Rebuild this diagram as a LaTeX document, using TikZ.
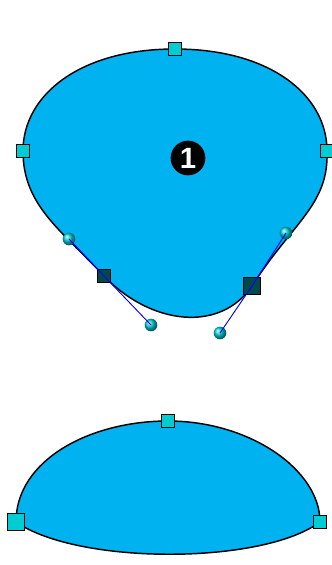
\documentclass[tikz,border=0pt]{standalone}
\usepackage{fontspec}
\newfontfamily\numfont{Liberation Sans}
\definecolor{shapeblue}{RGB}{0,178,240}
\definecolor{handlecyan}{RGB}{0,205,210}
\definecolor{darkhandle}{RGB}{0,72,74}
\tikzset{
  outline/.style={draw=black, line width=1.1pt, fill=shapeblue},
  anchorsq/.style={rectangle, draw=black, line width=1pt, fill=handlecyan, minimum size=#1, inner sep=0pt},
  anchorsq/.default=9.5pt,
  cornersq/.style={rectangle, draw=black, line width=1pt, fill=darkhandle, minimum size=#1, inner sep=0pt},
  cornersq/.default=10pt,
  ctrlpt/.style={circle, inner sep=0pt, minimum size=9.5pt, ball color=handlecyan},
  handleline/.style={draw=blue, line width=0.7pt},
  numbadge/.style={circle, fill=black, minimum size=26pt, inner sep=0pt, text=white,
    font=\numfont\bfseries\fontsize{22}{22}\selectfont}
}
\begin{document}
\begin{tikzpicture}[x=0.75pt, y=-0.75pt]
\useasboundingbox (0,0) rectangle (332,565);
% ---- upper shape points
\coordinate (T) at (175,49);
\coordinate (L) at (23,151);
\coordinate (R) at (327,151);
\coordinate (BL) at (104,276);
\coordinate (BR) at (252,286);
\coordinate (BLa) at (69,239);
\coordinate (BLb) at (151,325);
\coordinate (BRa) at (286,233);
\coordinate (BRb) at (220,333);
\path[outline] (T) .. controls (270,49) and (327,95) .. (R)
  .. controls (329,205) and (293,222) .. (BR)
  .. controls (BRb) and (BLb) .. (BL)
  .. controls (60,229) and (23,205) .. (L)
  .. controls (23,95) and (80,49) .. (T) -- cycle;
\node[numbadge] (num) at (188,158) {1};
% handles
\node[anchorsq] (hT) at (T) {};
\node[anchorsq] (hL) at (L) {};
\node[anchorsq] (hR) at (R) {};
\node[cornersq] (hBL) at (BL) {};
\node[cornersq=12.5pt] (hBR) at (BR) {};
\node[ctrlpt] (cBLa) at (BLa) {};
\node[ctrlpt] (cBLb) at (BLb) {};
\node[ctrlpt] (cBRa) at (BRa) {};
\node[ctrlpt] (cBRb) at (BRb) {};
\draw[handleline] (cBLa.center) -- (hBL.center) -- (cBLb.center);
\draw[handleline] (cBRa.center) -- (hBR.center) -- (cBRb.center);
% ---- lower shape
\coordinate (T2) at (168,421);
\coordinate (L2) at (16,522);
\coordinate (R2) at (320,522);
\path[outline] (L2) .. controls (16,460) and (90,421) .. (T2)
  .. controls (250,421) and (320,470) .. (R2)
  .. controls (262,565) and (78,565) .. (L2) -- cycle;
\node[anchorsq] (hT2) at (T2) {};
\node[anchorsq=13pt] (hL2) at (L2) {};
\node[anchorsq=10pt] (hR2) at (R2) {};
\end{tikzpicture}
\end{document}
